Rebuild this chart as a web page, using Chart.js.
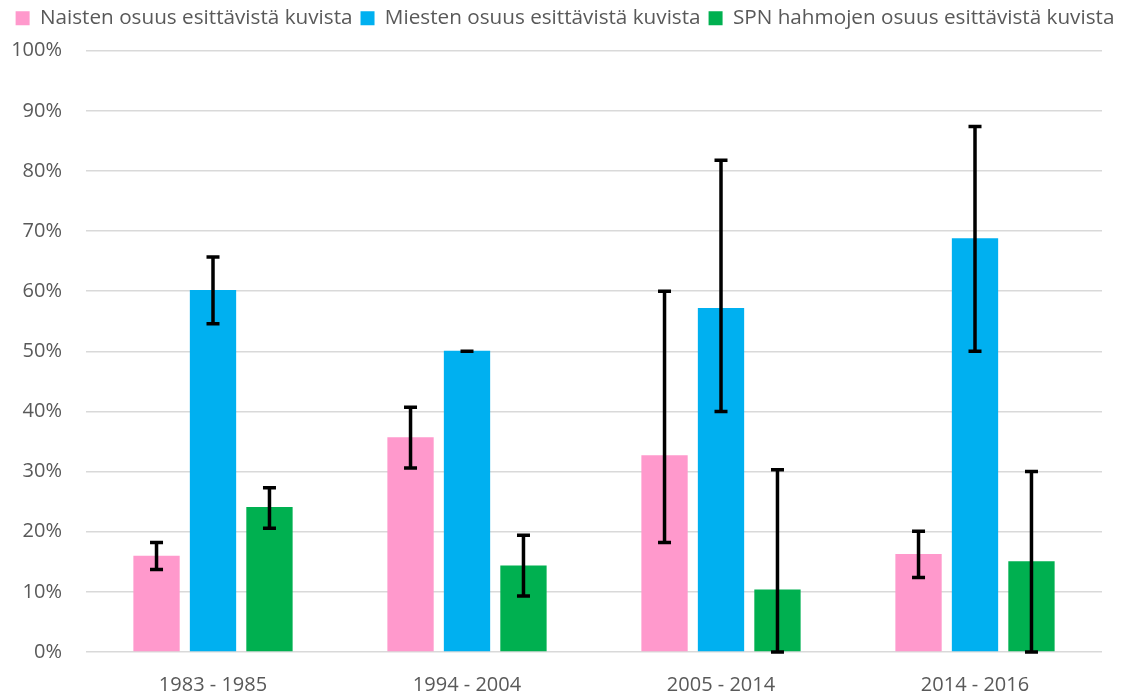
<!DOCTYPE html>
<html>
<head>
<meta charset="utf-8">
<script src="https://cdn.jsdelivr.net/npm/chart.js@4/dist/chart.umd.min.js"></script>
<style>
  html, body { margin: 0; padding: 0; background: #fff; }
  #wrap { width: 1130px; height: 693px; position: relative; }
</style>
</head>
<body>
<div id="wrap"><canvas id="chart"></canvas></div>
<script>
const periods = [`1983 - 1985`, `1994 - 2004`, `2005 - 2014`, `2014 - 2016`]

const women = [16.0, 35.7, 32.7, 16.3]
const women_low = [13.7, 30.6, 18.2, 12.4]
const women_high = [18.2, 40.7, 60.0, 20.1]

const men = [60.2, 50.1, 57.2, 68.8]
const men_low = [54.6, 50.0, 40.0, 50.0]
const men_high = [65.7, 50.0, 81.8, 87.4]

const spn = [24.1, 14.4, 10.4, 15.1]
const spn_low = [20.6, 9.3, 0, 0]
const spn_high = [27.3, 19.4, 30.3, 30.0]

const series_labels = [
    `Naisten osuus esittävistä kuvista`,
    `Miesten osuus esittävistä kuvista`,
    `SPN hahmojen osuus esittävistä kuvista`
]
const y_ticks = [0, 10, 20, 30, 40, 50, 60, 70, 80, 90, 100]

const FONT = `'Open Sans', 'Liberation Sans', sans-serif`
const TEXT = `#595959`

// error bars drawn from the low/high arrays through the y scale
const errorBars = {
    id: `errorBars`,
    afterDatasetsDraw(chart) {
        const ctx = chart.ctx
        const y = chart.scales.y
        chart.data.datasets.forEach((ds, di) => {
            const meta = chart.getDatasetMeta(di)
            meta.data.forEach((bar, i) => {
                const top = y.getPixelForValue(ds.errHigh[i])
                const bottom = y.getPixelForValue(ds.errLow[i])
                ctx.save()
                ctx.strokeStyle = `#000`
                ctx.lineWidth = 3.5
                ctx.lineCap = `butt`
                ctx.beginPath()
                ctx.moveTo(bar.x, top)
                ctx.lineTo(bar.x, bottom)
                ctx.moveTo(bar.x - 6.5, top)
                ctx.lineTo(bar.x + 6.5, top)
                ctx.moveTo(bar.x - 6.5, bottom)
                ctx.lineTo(bar.x + 6.5, bottom)
                ctx.stroke()
                ctx.restore()
            })
        })
    }
}

// extra room under the legend so the plot starts lower
const legendSpace = {
    id: `legendSpace`,
    beforeInit(chart) {
        const fit = chart.legend.fit
        chart.legend.fit = function () {
            fit.call(this)
            this.height += 12
        }
    }
}

const chart_ctx = document.getElementById(`chart`).getContext(`2d`)
const chart = new Chart(chart_ctx, {
    type: `bar`,
    data: {
        labels: periods,
        datasets: [{
            label: series_labels[0],
            data: women,
            errLow: women_low,
            errHigh: women_high,
            backgroundColor: `#FF99CC`
        }, {
            label: series_labels[1],
            data: men,
            errLow: men_low,
            errHigh: men_high,
            backgroundColor: `#00B0F0`
        }, {
            label: series_labels[2],
            data: spn,
            errLow: spn_low,
            errHigh: spn_high,
            backgroundColor: `#00B050`
        }]
    },
    options: {
        responsive: true,
        maintainAspectRatio: false,
        animation: false,
        categoryPercentage: 0.667,
        barPercentage: 0.82,
        layout: { padding: 0 },
        plugins: {
            tooltip: { enabled: false },
            legend: {
                position: `top`,
                labels: {
                    boxWidth: 14,
                    boxHeight: 14,
                    padding: 8,
                    color: TEXT,
                    font: { family: FONT, size: 20.7 }
                }
            }
        },
        scales: {
            x: {
                grid: { display: false, drawTicks: false },
                border: { display: false },
                ticks: { color: TEXT, font: { family: FONT, size: 20 }, padding: 21 },
                afterFit: (scale) => { scale.height = 41 }
            },
            y: {
                min: 0,
                max: 100,
                afterBuildTicks: (scale) => { scale.ticks = y_ticks.map(v => ({ value: v })) },
                grid: { color: `#D9D9D9`, lineWidth: 1.5, drawTicks: false },
                border: { display: false },
                ticks: {
                    color: TEXT,
                    font: { family: FONT, size: 20 },
                    padding: 24,
                    callback: (v) => `${v}%`
                },
                afterFit: (scale) => { scale.width = 86 }
            },
            // empty axis that only keeps a margin on the right
            right: {
                position: `right`,
                display: true,
                grid: { display: false, drawTicks: false },
                border: { display: false },
                ticks: { display: false },
                afterFit: (scale) => { scale.width = 28 }
            }
        }
    },
    plugins: [errorBars, legendSpace]
})
</script>
</body>
</html>
